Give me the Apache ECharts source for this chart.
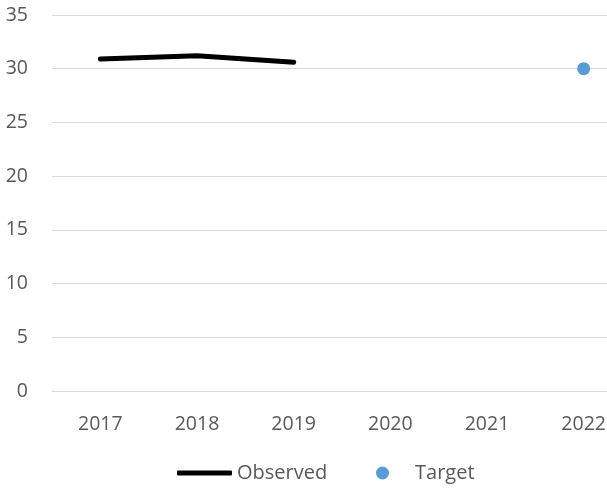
<!DOCTYPE html>
<html>
<head>
<meta charset="utf-8">
<script src="https://cdn.jsdelivr.net/npm/echarts@6/dist/echarts.min.js"></script>
<style>
	html, body { margin: 0; padding: 0; background: #fff; }
	#chart { width: 607px; height: 488px; }
</style>
</head>
<body>
<div id="chart"></div>
<script>
var years = ['2017', '2018', '2019', '2020', '2021', '2022'];
var observed = [30.9, 31.2, 30.6, null, null, null];
var target = [null, null, null, null, null, 30];
var yTicks = { min: 0, max: 35, interval: 5 };

var myChart = echarts.init(document.getElementById('chart'));
var textColor = '#595959';
var font = 'Open Sans';
var legendText = { color: textColor, fontSize: 20, fontFamily: font };

var option = {
	animation: false,
	grid: {
		left: 52,
		top: 15,
		width: 580,
		height: 376,
		outerBoundsMode: 'none'
	},
	legend: [
		{
			bottom: 0,
			left: 172,
			itemWidth: 55,
			itemHeight: 5,
			textStyle: legendText,
			data: [{ name: 'Observed', icon: 'roundRect' }]
		},
		{
			bottom: 0,
			left: 371,
			itemWidth: 55,
			itemHeight: 13,
			textStyle: legendText,
			data: [{ name: 'Target', icon: 'circle' }]
		}
	],
	xAxis: {
		type: 'category',
		data: years,
		boundaryGap: true,
		axisLine: { show: true, lineStyle: { color: '#d9d9d9', width: 1 } },
		axisTick: { show: false },
		axisLabel: { color: textColor, fontSize: 19.5, fontFamily: font, margin: 23 }
	},
	yAxis: {
		type: 'value',
		min: yTicks.min,
		max: yTicks.max,
		interval: yTicks.interval,
		axisLine: { show: false },
		axisTick: { show: false },
		splitLine: { lineStyle: { color: '#d9d9d9', width: 1 } },
		axisLabel: { color: textColor, fontSize: 19.5, fontFamily: font, margin: 24 }
	},
	series: [
		{
			name: 'Observed',
			type: 'line',
			data: observed,
			symbol: 'none',
			color: '#000000',
			lineStyle: { color: '#000000', width: 5, cap: 'round', join: 'round' }
		},
		{
			name: 'Target',
			type: 'scatter',
			data: target,
			symbol: 'circle',
			symbolSize: 13,
			itemStyle: { color: '#5b9bd5', opacity: 1 }
		}
	]
};
myChart.setOption(option);
</script>
</body>
</html>
